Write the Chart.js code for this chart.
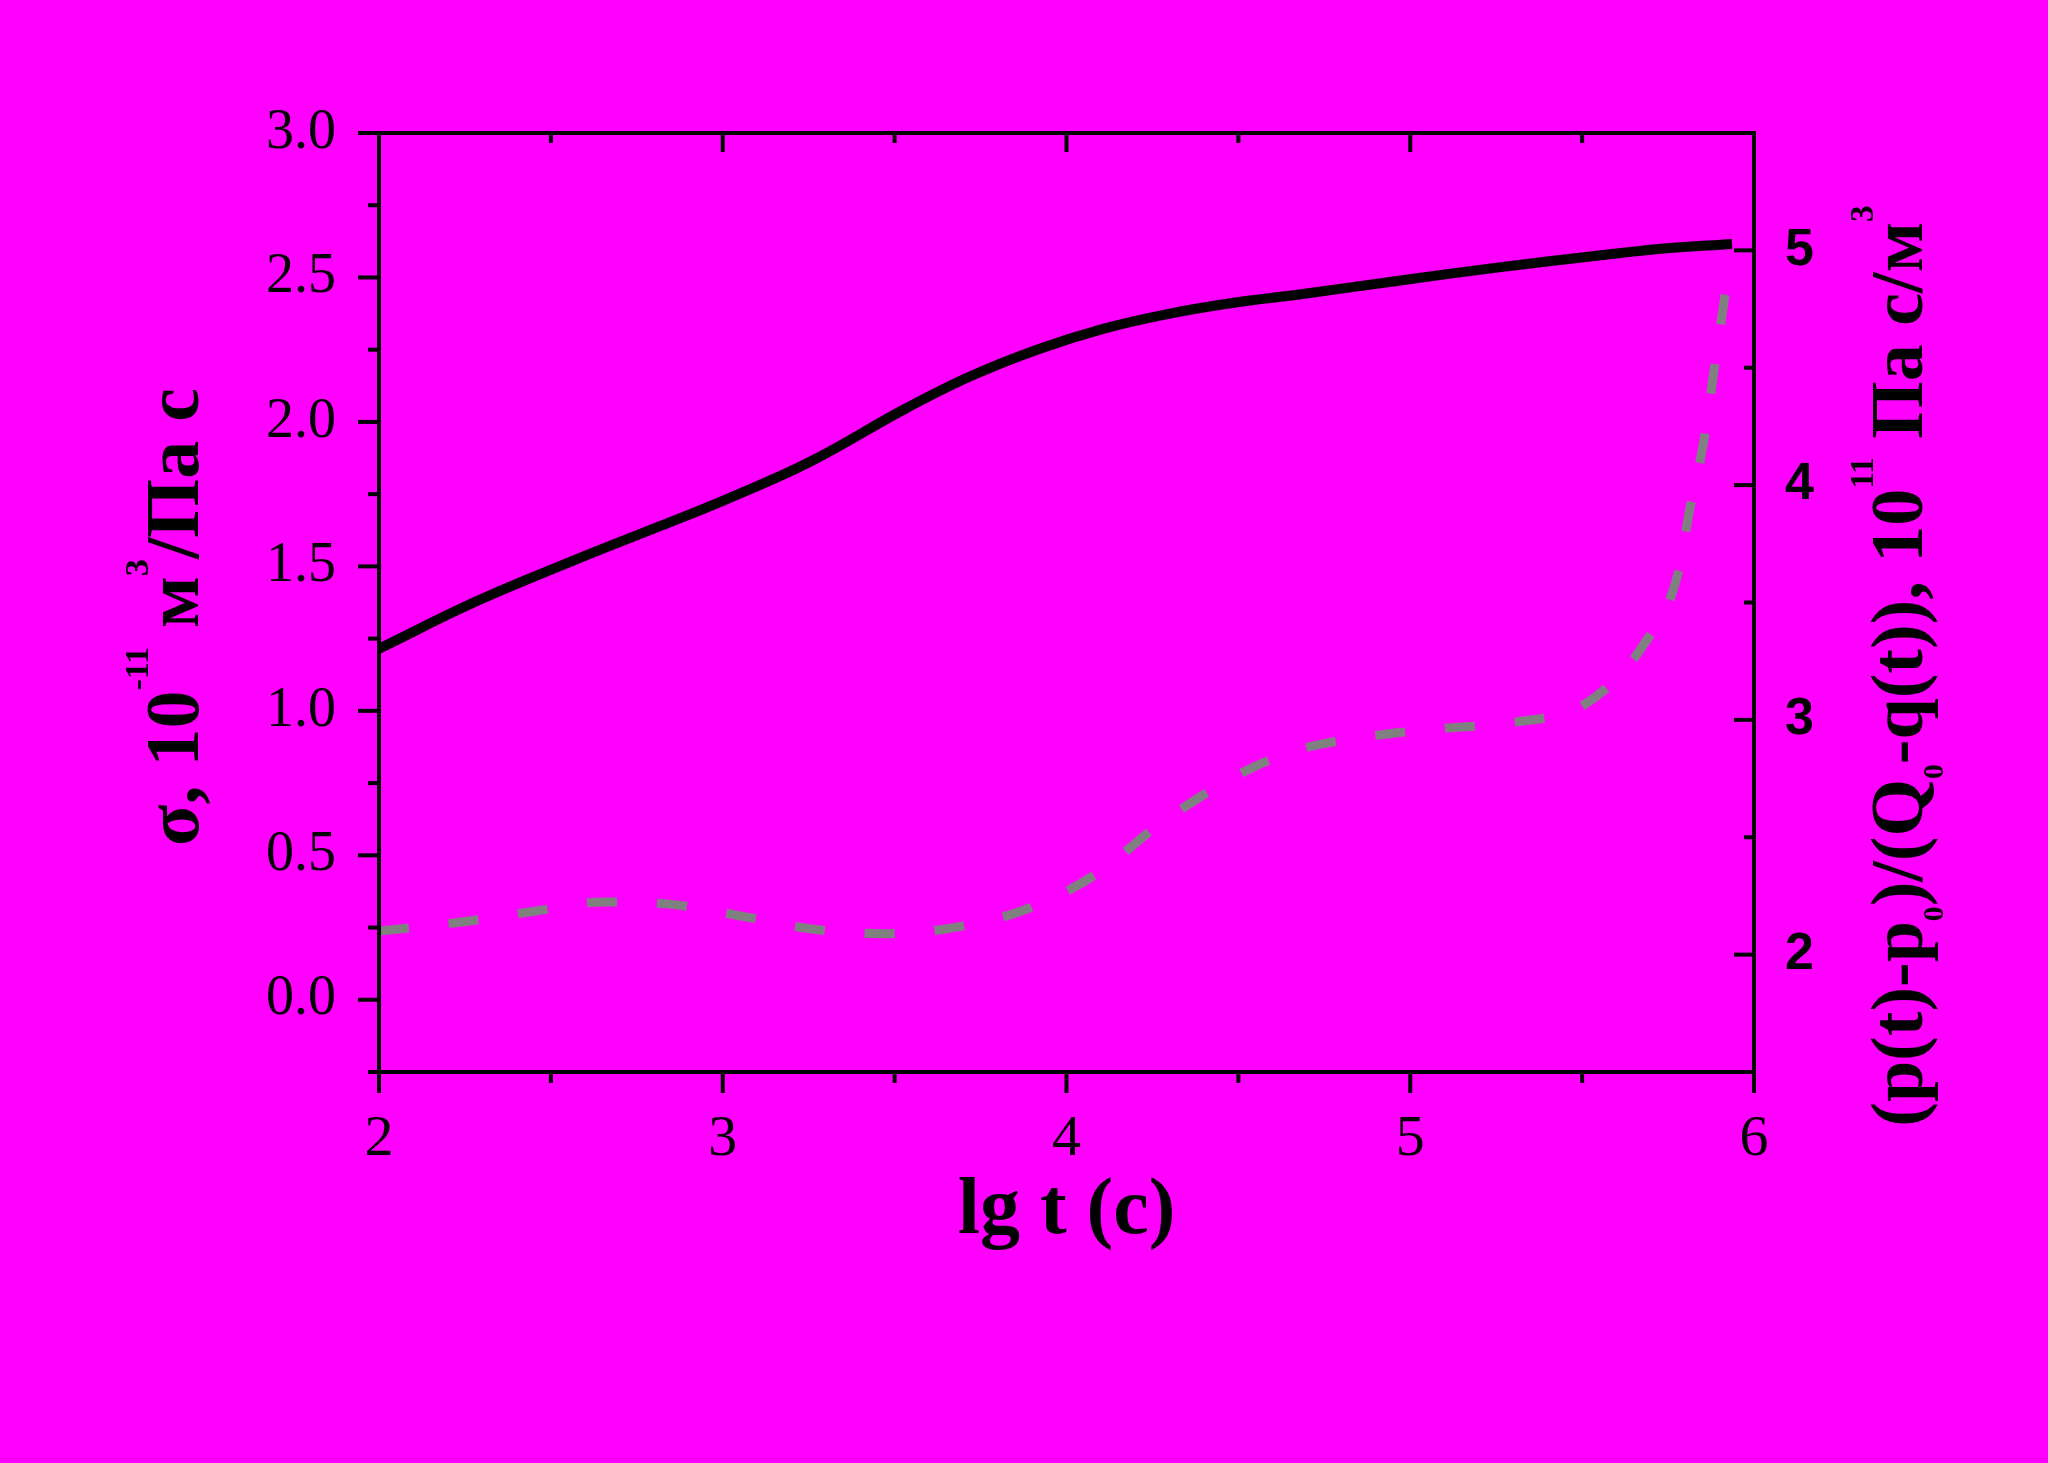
<!DOCTYPE html>
<html>
<head>
<meta charset="utf-8">
<script src="https://cdn.jsdelivr.net/npm/chart.js@4.4.1/dist/chart.umd.min.js"></script>
<style>
  html, body { margin: 0; padding: 0; background: #ff00ff; }
  #wrap { width: 2048px; height: 1463px; }
</style>
</head>
<body>
<div id="wrap"><canvas id="chart" width="2048" height="1463"></canvas></div>
<script>
// sigma, 10^-11 m3/(Pa s)  vs lg t
const lgtSigma = [2.0, 2.285, 2.576, 2.817, 3.012, 3.254, 3.527, 3.719, 3.914, 4.109, 4.301, 4.496, 4.671, 4.961, 5.252, 5.543, 5.738, 5.936];
const sigma    = [1.215, 1.38, 1.525, 1.639, 1.733, 1.862, 2.043, 2.157, 2.25, 2.323, 2.375, 2.414, 2.44, 2.488, 2.534, 2.575, 2.600, 2.616];

// (p(t)-p0)/(Q0-q(t)), 10^11 Pa s/m3  vs lg t
const lgtRatio = [2.0, 2.241, 2.448, 2.652, 2.858, 3.062, 3.265, 3.472, 3.676, 3.879, 4.080, 4.275, 4.484, 4.656, 4.892, 5.098, 5.302, 5.505, 5.677, 5.776, 5.814, 5.855, 5.884, 5.913, 5.92];
const ratio    = [2.10, 2.139, 2.184, 2.224, 2.213, 2.162, 2.108, 2.089, 2.116, 2.191, 2.337, 2.560, 2.754, 2.865, 2.932, 2.964, 2.990, 3.064, 3.316, 3.607, 3.905, 4.196, 4.492, 4.784, 4.85];

// tick values
const xMajor  = [2, 3, 4, 5, 6];
const xMinor  = [2.5, 3.5, 4.5, 5.5];
const yMajor  = [0, 0.5, 1.0, 1.5, 2.0, 2.5, 3.0];
const yMinor  = [-0.25, 0.25, 0.75, 1.25, 1.75, 2.25, 2.75];
const y2Major = [2, 3, 4, 5];
const y2Minor = [1.5, 2.5, 3.5, 4.5, 5.5];

const SERIF = '"Liberation Serif", "Times New Roman", serif';
const SANS = '"Liberation Sans", Arial, sans-serif';

const toPoints = (xs, ys) => xs.map((x, i) => ({ x: x, y: ys[i] }));
const setTicks = vals => scale => { scale.ticks = vals.map(v => ({ value: v })); };

// draws text with super/subscripts, centred on (cx, cy) along its baseline
function drawRich(ctx, parts, size, cx, cy, angle) {
    ctx.save();
    ctx.translate(cx, cy);
    ctx.rotate(angle);
    ctx.fillStyle = '#000';
    ctx.textBaseline = 'alphabetic';
    ctx.textAlign = 'left';
    const items = parts.map(p => {
        const s = p.sup ? size * 0.45 : p.sub ? size * 0.4 : size;
        ctx.font = 'bold ' + s + 'px ' + SERIF;
        return { t: p.t, sup: p.sup, sub: p.sub, s: s, w: ctx.measureText(p.t).width };
    });
    const total = items.reduce((a, b) => a + b.w, 0);
    let x = -total / 2;
    items.forEach(it => {
        ctx.font = 'bold ' + it.s + 'px ' + SERIF;
        const dy = it.sup ? -size * 0.66 : it.sub ? size * 0.28 : 0;
        ctx.fillText(it.t, x, dy);
        x += it.w;
    });
    ctx.restore();
}

const frame = {
    id: 'frame',
    afterDraw(chart) {
        const ctx = chart.ctx;
        const { left, right, top, bottom } = chart.chartArea;
        const sx = chart.scales.x, sy = chart.scales.y, sy2 = chart.scales.y2;
        ctx.save();
        ctx.strokeStyle = '#000';
        ctx.lineWidth = 4;
        ctx.lineCap = 'butt';

        const line = (x1, y1, x2, y2) => {
            ctx.beginPath(); ctx.moveTo(x1, y1); ctx.lineTo(x2, y2); ctx.stroke();
        };
        // bottom (outward) and top (inward)
        xMajor.forEach(v => { const p = sx.getPixelForValue(v); line(p, bottom, p, bottom + 21); line(p, top, p, top + 19); });
        xMinor.forEach(v => { const p = sx.getPixelForValue(v); line(p, bottom, p, bottom + 11); line(p, top, p, top + 10); });
        // left (outward)
        yMajor.forEach(v => { const p = sy.getPixelForValue(v); line(left, p, left - 21, p); });
        yMinor.forEach(v => { const p = sy.getPixelForValue(v); line(left, p, left - 11, p); });
        // right (inward)
        y2Major.forEach(v => { const p = sy2.getPixelForValue(v); line(right, p, right - 20, p); });
        y2Minor.forEach(v => { const p = sy2.getPixelForValue(v); line(right, p, right - 10, p); });

        ctx.lineJoin = 'miter';
        ctx.strokeRect(left, top, right - left, bottom - top);
        ctx.restore();

        // axis titles
        drawRich(ctx, [{ t: 'lg t (с)' }], 80, (left + right) / 2, 1233, 0);
        drawRich(ctx, [
            { t: 'σ, 10' }, { t: '-11', sup: true }, { t: ' м' }, { t: '3', sup: true }, { t: '/Па с' }
        ], 76, 198, 617, -Math.PI / 2);
        drawRich(ctx, [
            { t: '(p(t)-p' }, { t: '0', sub: true }, { t: ')/(Q' }, { t: '0', sub: true },
            { t: '-q(t)), 10' }, { t: '11', sup: true }, { t: ' Па с/м' }, { t: '3', sup: true }
        ], 74, 1922, 666, -Math.PI / 2);
    }
};

new Chart(document.getElementById('chart'), {
    type: 'line',
    data: {
        datasets: [
            {
                label: 'sigma',
                data: toPoints(lgtSigma, sigma),
                yAxisID: 'y',
                borderColor: '#000000',
                borderWidth: 10,
                borderCapStyle: 'butt',
                pointRadius: 0,
                tension: 0.4,
                fill: false
            },
            {
                label: 'ratio',
                data: toPoints(lgtRatio, ratio),
                yAxisID: 'y2',
                borderColor: '#808080',
                borderWidth: 9,
                borderDash: [30, 40],
                borderCapStyle: 'butt',
                pointRadius: 0,
                cubicInterpolationMode: 'monotone',
                fill: false
            }
        ]
    },
    options: {
        responsive: false,
        animation: false,
        events: [],
        layout: { padding: { top: 133, left: 0, right: 0, bottom: 0 } },
        plugins: { legend: { display: false }, tooltip: { enabled: false } },
        scales: {
            x: {
                type: 'linear',
                position: 'bottom',
                min: 2, max: 6,
                afterBuildTicks: setTicks(xMajor),
                afterFit: s => { s.height = 391; },
                grid: { display: false },
                border: { display: false },
                ticks: {
                    color: '#000',
                    padding: 25,
                    maxRotation: 0,
                    font: { family: SERIF, size: 58, lineHeight: 1.2 },
                    callback: v => String(v)
                }
            },
            y: {
                type: 'linear',
                position: 'left',
                min: -0.25, max: 3.0,
                afterBuildTicks: setTicks(yMajor),
                afterFit: s => { s.width = 379; },
                grid: { display: false },
                border: { display: false },
                ticks: {
                    color: '#000',
                    padding: 35,
                    font: { family: SERIF, size: 56 },
                    callback: v => Number(v).toFixed(1)
                }
            },
            y2: {
                type: 'linear',
                position: 'right',
                min: 1.5, max: 5.5,
                afterBuildTicks: setTicks(y2Major),
                afterFit: s => { s.width = 294; },
                grid: { display: false },
                border: { display: false },
                ticks: {
                    color: '#000',
                    padding: 23,
                    font: { family: SANS, size: 52, weight: 'bold' },
                    callback: v => String(v)
                }
            }
        }
    },
    plugins: [frame]
});
</script>
</body>
</html>
